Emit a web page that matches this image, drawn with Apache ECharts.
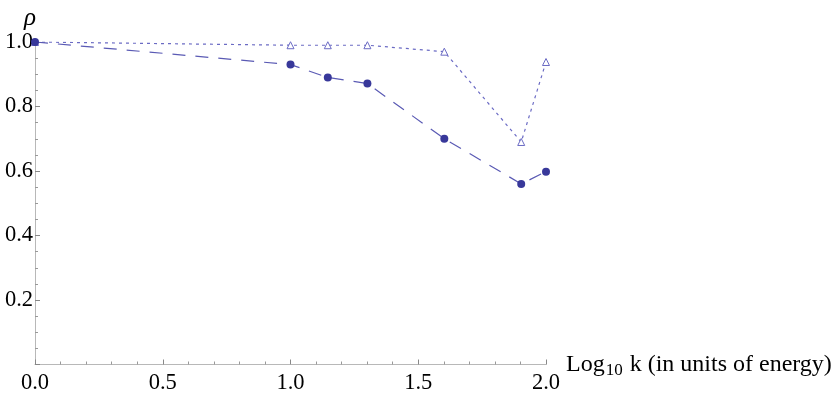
<!DOCTYPE html>
<html>
<head>
<meta charset="utf-8">
<script src="https://cdn.jsdelivr.net/npm/echarts@6/dist/echarts.min.js"></script>
<style>
  html, body { margin: 0; padding: 0; background: #fff; }
  #chart { width: 839px; height: 396px; }
</style>
</head>
<body>
<div id="chart"></div>
<script>
// log10 k values
const logK = [0, 1.0, 1.146, 1.301, 1.602, 1.903, 2.0];
// rho, filled circles, long dashes
const rhoDashed = [1.0, 0.93, 0.89, 0.871, 0.70, 0.56, 0.598];
// rho, open triangles, dotted
const rhoDotted = [1.0, 0.99, 0.99, 0.99, 0.97, 0.69, 0.938];

const pairs = (xs, ys) => xs.map((x, i) => [x, ys[i]]);

const serif = '"Liberation Serif", "Times New Roman", serif';
const axisGray = '#b8b8b8';

const chart = echarts.init(document.getElementById('chart'));
chart.setOption({
  animation: false,
  grid: { left: 35, right: 293, top: 42, bottom: 31.5, containLabel: false },
  xAxis: {
    type: 'value',
    min: 0,
    max: 2,
    interval: 0.5,
    name: '{t|Log}{s|10}{t| k (in units of energy)}',
    nameLocation: 'end',
    nameGap: 20,
    nameTextStyle: {
      verticalAlign: 'middle',
      rich: {
        t: { fontFamily: serif, fontSize: 24, color: '#000' },
        s: { fontFamily: serif, fontSize: 17, color: '#000', padding: [12, 1, 0, 1] }
      }
    },
    axisLine: { show: true, lineStyle: { color: axisGray, width: 1 } },
    axisTick: { show: true, inside: true, length: 5, lineStyle: { color: '#888' } },
    minorTick: { show: true, splitNumber: 5, length: 3, lineStyle: { color: '#999' } },
    splitLine: { show: false },
    axisLabel: {
      fontFamily: serif, fontSize: 22.5, color: '#000', margin: 7,
      formatter: v => v.toFixed(1)
    }
  },
  yAxis: {
    type: 'value',
    min: 0,
    max: 1,
    interval: 0.2,
    name: 'ρ',
    nameLocation: 'end',
    nameGap: 11,
    nameTextStyle: { fontFamily: serif, fontStyle: 'italic', fontSize: 25, color: '#000', align: 'right', padding: [0, -1, 0, 0] },
    axisLine: { show: true, lineStyle: { color: axisGray, width: 1 } },
    axisTick: { show: true, inside: true, length: 5, lineStyle: { color: '#888' } },
    minorTick: { show: true, splitNumber: 4, length: 3, lineStyle: { color: '#999' } },
    splitLine: { show: false },
    axisLabel: {
      showMinLabel: false,
      fontFamily: serif, fontSize: 22.5, color: '#000', margin: 2,
      formatter: v => v.toFixed(1)
    }
  },
  series: [
    {
      type: 'line',
      data: pairs(logK, rhoDotted),
      symbol: 'triangle',
      symbolSize: 7,
      itemStyle: { color: '#fff', borderColor: '#6b6bc4', borderWidth: 1 },
      lineStyle: { color: '#6b6bc4', width: 1.2, type: [3, 4] },
      z: 2
    },
    {
      type: 'line',
      data: pairs(logK, rhoDashed),
      symbol: 'circle',
      symbolSize: 8,
      itemStyle: { color: '#38389a', borderWidth: 0 },
      lineStyle: { color: '#5a5ab4', width: 1.2, type: [13, 10] },
      z: 3
    }
  ]
});
</script>
</body>
</html>
